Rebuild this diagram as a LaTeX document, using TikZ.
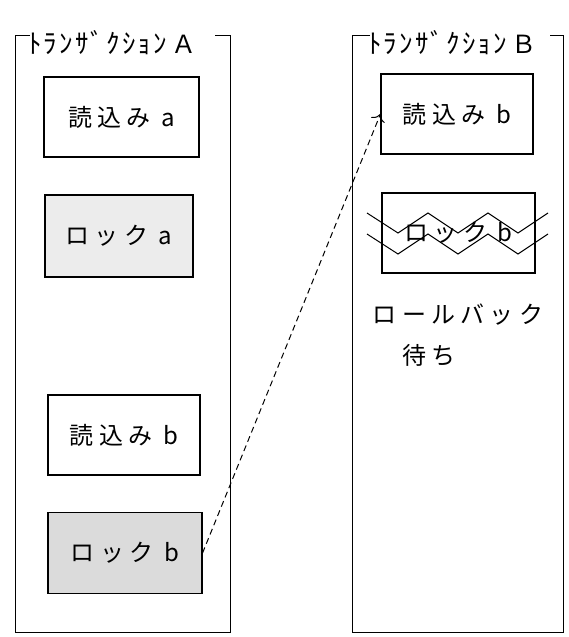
\documentclass[tikz,border=0pt]{standalone}
\usepackage{fontspec}
\setmainfont{Noto Sans CJK JP}
\newfontfamily\jpwide[LetterSpace=22]{Noto Sans CJK JP}
\newfontfamily\jpnarrow[LetterSpace=8]{Noto Sans CJK JP}
\newcommand\kanatitle[1]{{\jpnarrow\fontsize{27}{27}\selectfont ﾄﾗﾝｻﾞｸｼｮﾝ}\hspace{5pt}{\fontsize{25}{25}\selectfont #1}}
\usetikzlibrary{positioning,arrows.meta}

\begin{document}
\begin{tikzpicture}
    [ x=1pt, y=-1pt
    , frameline/.style={line width=1pt}
    , opbox/.style={draw, line width=1.1pt, minimum width=152pt, minimum height=80pt,
        inner sep=0pt, font=\jpwide\fontsize{24}{24}\selectfont}
    , lockbox/.style={opbox, fill=gray!15}
    , frametitle/.style={anchor=west, inner sep=0pt}
    , remark/.style={inner sep=0pt, font=\jpwide\fontsize{24}{24}\selectfont}
    ]
  \useasboundingbox (0,0) rectangle (569,637);

  % transaction A
  \node[frametitle] (titleA) at (28,43) {\kanatitle{Ａ}};
  \draw[frameline] (30,35) -- (15,35) -- (15,632) -- (230,632) -- (230,35) -- (215,35);
  \node[opbox, minimum width=155pt] (readaA) at (121.5,117) {読込み a};
  \node[lockbox, minimum width=148pt, minimum height=82pt] (lockaA) at (119,236) {ロック a};
  \node[opbox] (readbA) at (124,435) {読込み b};
  \node[lockbox, fill=gray!28, minimum width=154pt, minimum height=81pt] (lockbA) at (125,553) {ロック b};

  % transaction B
  \node[frametitle] (titleB) at (368,43) {\kanatitle{Ｂ}};
  \draw[frameline] (370,35) -- (352,35) -- (352,632) -- (563,632) -- (563,35) -- (550,35);
  \node[opbox] (readbB) at (457,114) {読込み b};
  \node[opbox, minimum width=153pt] (lockbB) at (458.5,233) {ロック b};
  \foreach \dy in {0,21}
    \draw[line width=1pt, yshift=-\dy pt] (367,213) -- (398,233) -- (428,213) -- (458,233)
      -- (488,213) -- (518,233) -- (548,213);
  \node[remark] (rollback) at (458,315) {ロールバック};
  \node[remark] (wait) at (429,355) {待ち};

  \draw[line width=1pt, dash pattern=on 6pt off 4pt, -{To[length=7pt]}] (lockbA.east) -- (readbB.west);
\end{tikzpicture}
\end{document}
